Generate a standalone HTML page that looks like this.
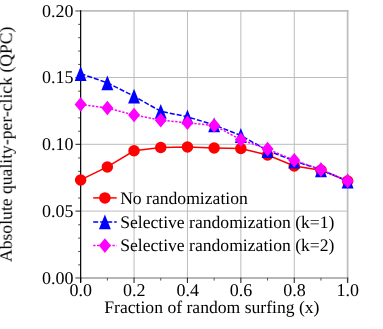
<!DOCTYPE html><html><head><meta charset="utf-8"><style>html,body{margin:0;padding:0;background:#fff;overflow:hidden}svg{display:block}text{text-rendering:geometricPrecision;font-family:"Liberation Serif",serif;font-size:17.62px;fill:#000}</style></head><body>
<svg width="383" height="329" viewBox="0 0 383 329">
<rect width="383" height="329" fill="#fff"/>
<line x1="134.05" y1="10.9" x2="134.05" y2="277.9" stroke="#bcbcbc" stroke-width="1"/>
<line x1="187.45" y1="10.9" x2="187.45" y2="277.9" stroke="#bcbcbc" stroke-width="1"/>
<line x1="240.85" y1="10.9" x2="240.85" y2="277.9" stroke="#bcbcbc" stroke-width="1"/>
<line x1="294.25" y1="10.9" x2="294.25" y2="277.9" stroke="#bcbcbc" stroke-width="1"/>
<line x1="80.5" y1="211.10" x2="347.6" y2="211.10" stroke="#bcbcbc" stroke-width="1"/>
<line x1="80.5" y1="144.30" x2="347.6" y2="144.30" stroke="#bcbcbc" stroke-width="1"/>
<line x1="80.5" y1="77.50" x2="347.6" y2="77.50" stroke="#bcbcbc" stroke-width="1"/>
<line x1="78.2" y1="264.84" x2="80.6" y2="264.84" stroke="#000" stroke-width="0.7"/>
<line x1="78.2" y1="251.48" x2="80.6" y2="251.48" stroke="#000" stroke-width="0.7"/>
<line x1="78.2" y1="238.12" x2="80.6" y2="238.12" stroke="#000" stroke-width="0.7"/>
<line x1="78.2" y1="224.76" x2="80.6" y2="224.76" stroke="#000" stroke-width="0.7"/>
<line x1="75.5" y1="211.10" x2="80.5" y2="211.10" stroke="#000" stroke-width="0.9"/>
<line x1="78.2" y1="198.04" x2="80.6" y2="198.04" stroke="#000" stroke-width="0.7"/>
<line x1="78.2" y1="184.68" x2="80.6" y2="184.68" stroke="#000" stroke-width="0.7"/>
<line x1="78.2" y1="171.32" x2="80.6" y2="171.32" stroke="#000" stroke-width="0.7"/>
<line x1="78.2" y1="157.96" x2="80.6" y2="157.96" stroke="#000" stroke-width="0.7"/>
<line x1="75.5" y1="144.30" x2="80.5" y2="144.30" stroke="#000" stroke-width="0.9"/>
<line x1="78.2" y1="131.24" x2="80.6" y2="131.24" stroke="#000" stroke-width="0.7"/>
<line x1="78.2" y1="117.88" x2="80.6" y2="117.88" stroke="#000" stroke-width="0.7"/>
<line x1="78.2" y1="104.52" x2="80.6" y2="104.52" stroke="#000" stroke-width="0.7"/>
<line x1="78.2" y1="91.16" x2="80.6" y2="91.16" stroke="#000" stroke-width="0.7"/>
<line x1="75.5" y1="77.50" x2="80.5" y2="77.50" stroke="#000" stroke-width="0.9"/>
<line x1="78.2" y1="64.44" x2="80.6" y2="64.44" stroke="#000" stroke-width="0.7"/>
<line x1="78.2" y1="51.08" x2="80.6" y2="51.08" stroke="#000" stroke-width="0.7"/>
<line x1="78.2" y1="37.72" x2="80.6" y2="37.72" stroke="#000" stroke-width="0.7"/>
<line x1="78.2" y1="24.36" x2="80.6" y2="24.36" stroke="#000" stroke-width="0.7"/>
<line x1="75.5" y1="10.9" x2="348.4" y2="10.9" stroke="#bdbdbd" stroke-width="1.7"/>
<line x1="347.6" y1="10.1" x2="347.6" y2="282.5" stroke="#bdbdbd" stroke-width="1.7"/>
<line x1="75.5" y1="277.9" x2="348.4" y2="277.9" stroke="#b6b6b6" stroke-width="2"/>
<line x1="80.65" y1="277.4" x2="80.65" y2="283" stroke="#2a2a2a" stroke-width="1.1"/>
<line x1="107.35" y1="277.9" x2="107.35" y2="280.6" stroke="#444" stroke-width="0.9"/>
<line x1="134.05" y1="277.4" x2="134.05" y2="283" stroke="#2a2a2a" stroke-width="1.1"/>
<line x1="160.75" y1="277.9" x2="160.75" y2="280.6" stroke="#444" stroke-width="0.9"/>
<line x1="187.45" y1="277.4" x2="187.45" y2="283" stroke="#2a2a2a" stroke-width="1.1"/>
<line x1="214.15" y1="277.9" x2="214.15" y2="280.6" stroke="#444" stroke-width="0.9"/>
<line x1="240.85" y1="277.4" x2="240.85" y2="283" stroke="#2a2a2a" stroke-width="1.1"/>
<line x1="267.55" y1="277.9" x2="267.55" y2="280.6" stroke="#444" stroke-width="0.9"/>
<line x1="294.25" y1="277.4" x2="294.25" y2="283" stroke="#2a2a2a" stroke-width="1.1"/>
<line x1="320.95" y1="277.9" x2="320.95" y2="280.6" stroke="#444" stroke-width="0.9"/>
<line x1="347.65" y1="277.4" x2="347.65" y2="283" stroke="#2a2a2a" stroke-width="1.1"/>
<line x1="75.5" y1="10.9" x2="80.6" y2="10.9" stroke="#999" stroke-width="1.7"/>
<line x1="75.5" y1="277.9" x2="80.6" y2="277.9" stroke="#a0a0a0" stroke-width="2"/>
<line x1="80.65" y1="10.3" x2="80.65" y2="282.5" stroke="#000" stroke-width="1.2"/>
<polyline points="80.65,179.95 107.35,166.95 134.05,150.75 160.75,147.55 187.45,147.05 214.15,148.05 240.85,148.55 267.55,154.95 294.25,166.05 320.95,170.15 347.65,181.10" fill="none" stroke="#ff0000" stroke-width="1.5"/>
<circle cx="80.65" cy="179.95" r="5.75" fill="#ff0000"/>
<circle cx="107.35" cy="166.95" r="5.75" fill="#ff0000"/>
<circle cx="134.05" cy="150.75" r="5.75" fill="#ff0000"/>
<circle cx="160.75" cy="147.55" r="5.75" fill="#ff0000"/>
<circle cx="187.45" cy="147.05" r="5.75" fill="#ff0000"/>
<circle cx="214.15" cy="148.05" r="5.75" fill="#ff0000"/>
<circle cx="240.85" cy="148.55" r="5.75" fill="#ff0000"/>
<circle cx="267.55" cy="154.95" r="5.75" fill="#ff0000"/>
<circle cx="294.25" cy="166.05" r="5.75" fill="#ff0000"/>
<circle cx="320.95" cy="170.15" r="5.75" fill="#ff0000"/>
<circle cx="347.65" cy="181.10" r="5.75" fill="#ff0000"/>
<polyline points="80.65,73.70 107.35,82.80 134.05,96.20 160.75,111.30 187.45,116.80 214.15,124.90 240.85,135.50 267.55,150.50 294.25,161.00 320.95,169.80 347.65,181.00" fill="none" stroke="#0000ff" stroke-width="1.5" stroke-dasharray="5 2"/>
<polygon points="80.65,66.30 86.60,81.10 74.70,81.10" fill="#0000ff"/>
<polygon points="107.35,75.40 113.30,90.20 101.40,90.20" fill="#0000ff"/>
<polygon points="134.05,88.80 140.00,103.60 128.10,103.60" fill="#0000ff"/>
<polygon points="160.75,103.90 166.70,118.70 154.80,118.70" fill="#0000ff"/>
<polygon points="187.45,109.40 193.40,124.20 181.50,124.20" fill="#0000ff"/>
<polygon points="214.15,117.50 220.10,132.30 208.20,132.30" fill="#0000ff"/>
<polygon points="240.85,128.10 246.80,142.90 234.90,142.90" fill="#0000ff"/>
<polygon points="267.55,143.10 273.50,157.90 261.60,157.90" fill="#0000ff"/>
<polygon points="294.25,153.60 300.20,168.40 288.30,168.40" fill="#0000ff"/>
<polygon points="320.95,162.40 326.90,177.20 315.00,177.20" fill="#0000ff"/>
<polygon points="347.65,173.60 353.60,188.40 341.70,188.40" fill="#0000ff"/>
<polyline points="80.65,104.45 107.35,108.00 134.05,115.00 160.75,120.20 187.45,122.80 214.15,125.50 240.85,139.70 267.55,149.10 294.25,160.20 320.95,169.60 347.65,181.00" fill="none" stroke="#ff00ff" stroke-width="1.5" stroke-dasharray="2.3 1.55"/>
<polygon points="80.65,97.15 86.65,104.45 80.65,111.75 74.65,104.45" fill="#ff00ff"/>
<polygon points="107.35,100.70 113.35,108.00 107.35,115.30 101.35,108.00" fill="#ff00ff"/>
<polygon points="134.05,107.70 140.05,115.00 134.05,122.30 128.05,115.00" fill="#ff00ff"/>
<polygon points="160.75,112.90 166.75,120.20 160.75,127.50 154.75,120.20" fill="#ff00ff"/>
<polygon points="187.45,115.50 193.45,122.80 187.45,130.10 181.45,122.80" fill="#ff00ff"/>
<polygon points="214.15,118.20 220.15,125.50 214.15,132.80 208.15,125.50" fill="#ff00ff"/>
<polygon points="240.85,132.40 246.85,139.70 240.85,147.00 234.85,139.70" fill="#ff00ff"/>
<polygon points="267.55,141.80 273.55,149.10 267.55,156.40 261.55,149.10" fill="#ff00ff"/>
<polygon points="294.25,152.90 300.25,160.20 294.25,167.50 288.25,160.20" fill="#ff00ff"/>
<polygon points="320.95,162.30 326.95,169.60 320.95,176.90 314.95,169.60" fill="#ff00ff"/>
<polygon points="347.65,173.70 353.65,181.00 347.65,188.30 341.65,181.00" fill="#ff00ff"/>
<line x1="93.2" y1="197.9" x2="116.7" y2="197.9" stroke="#ff0000" stroke-width="1.5"/>
<circle cx="104.9" cy="197.9" r="5.75" fill="#ff0000"/>
<line x1="93.2" y1="221.9" x2="116.7" y2="221.9" stroke="#0000ff" stroke-width="1.5" stroke-dasharray="5 2"/>
<polygon points="104.90,214.40 110.85,229.20 98.95,229.20" fill="#0000ff"/>
<line x1="93.2" y1="245.6" x2="116.7" y2="245.6" stroke="#ff00ff" stroke-width="1.5" stroke-dasharray="2.3 1.55"/>
<polygon points="104.90,238.30 110.90,245.60 104.90,252.90 98.90,245.60" fill="#ff00ff"/>
<defs><filter id="tf" x="-5%" y="-5%" width="110%" height="110%"><feGaussianBlur stdDeviation="0.3"/></filter></defs><g filter="url(#tf)">
<text x="120.15" y="203.5">No randomization</text>
<text x="120.15" y="227.6">Selective randomization (k=1)</text>
<text x="120.15" y="251.3">Selective randomization (k=2)</text>
<text style="font-size:18px" x="73.6" y="283.85" text-anchor="end">0.00</text>
<text style="font-size:18px" x="73.6" y="217.05" text-anchor="end">0.05</text>
<text style="font-size:18px" x="73.6" y="150.25" text-anchor="end">0.10</text>
<text style="font-size:18px" x="73.6" y="83.45" text-anchor="end">0.15</text>
<text style="font-size:18px" x="73.6" y="16.65" text-anchor="end">0.20</text>
<text style="font-size:18px" x="80.85" y="296.35" text-anchor="middle">0.0</text>
<text style="font-size:18px" x="134.25" y="296.35" text-anchor="middle">0.2</text>
<text style="font-size:18px" x="187.65" y="296.35" text-anchor="middle">0.4</text>
<text style="font-size:18px" x="241.05" y="296.35" text-anchor="middle">0.6</text>
<text style="font-size:18px" x="294.45" y="296.35" text-anchor="middle">0.8</text>
<text style="font-size:18px" x="347.85" y="296.35" text-anchor="middle">1.0</text>
<text x="104.3" y="313.35">Fraction of random surfing (x)</text>
<text style="font-size:17.62px" transform="translate(11.7,262.05) rotate(-90)">Absolute quality-per-click (QPC)</text>
</g>
</svg></body></html>
